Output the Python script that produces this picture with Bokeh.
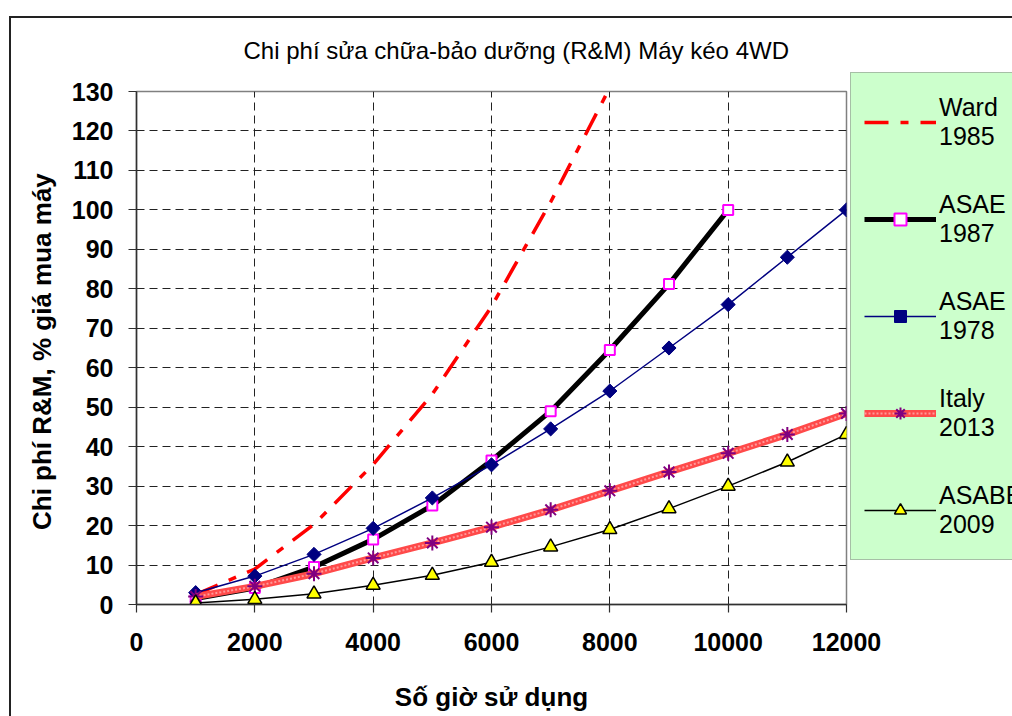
from bokeh.plotting import figure
from bokeh.models import Range1d, FixedTicker, Legend, LegendItem, InlineStyleSheet
from bokeh.embed import file_html
from bokeh.resources import INLINE

# ---------------- data ----------------
title_text = "Chi phí sửa chữa-bảo dưỡng (R&M) Máy kéo 4WD"
x_title = "Số giờ sử dụng"
y_title = "Chi phí R&M,  % giá mua máy"

x_ticks = [0, 2000, 4000, 6000, 8000, 10000, 12000]
y_ticks = [0, 10, 20, 30, 40, 50, 60, 70, 80, 90, 100, 110, 120, 130]

ward_hours = [1000, 2000, 3000, 4000, 5000, 6000, 7000, 8000]
ward_1985 = [2.5, 9, 20.3, 35.5, 53.3, 75.5, 102, 131]

asae87_hours = [1000, 2000, 3000, 4000, 5000, 6000, 7000, 8000, 9000, 10000]
asae_1987 = [1.5, 4.2, 9.5, 16.5, 25.1, 36.5, 49, 64.5, 81.2, 100]

hours12 = [1000, 2000, 3000, 4000, 5000, 6000, 7000, 8000, 9000, 10000, 11000, 12000]
asae_1978 = [3, 7.2, 12.7, 19.3, 27, 35.4, 44.5, 54.1, 65, 76, 88, 100]
italy_2013 = [2, 4.6, 7.8, 11.8, 15.6, 19.6, 24, 28.8, 33.6, 38.3, 43.1, 48.4]
asabe_2009 = [0.4, 1.3, 2.7, 4.9, 7.4, 10.7, 14.6, 19, 24.3, 30, 36.1, 43.1]

series_names = ["Ward\n1985", "ASAE\n1987", "ASAE\n1978", "Italy\n2013", "ASABE\n2009"]

FONT = "Liberation Sans"

# ---------------- main plot ----------------
p = figure(width=1012, height=716, output_backend="svg", toolbar_location=None,
           x_range=Range1d(0, 12000), y_range=Range1d(0, 130),
           min_border_left=136, min_border_right=166, min_border_top=91, min_border_bottom=112,
           background_fill_color="white", border_fill_color="white")

p.stylesheets = [InlineStyleSheet(css=(
    ":host::after { content: ''; position: absolute; left: 9px; top: 16px; "
    "right: 0px; bottom: 0px; border-left: 2px solid #222222; border-top: 2px solid #222222; "
    "pointer-events: none; }"
))]

p.title.text = title_text
p.title.text_font = FONT
p.title.text_font_style = "normal"
p.title.text_font_size = "24px"
p.title.align = "left"
p.title.offset = 107
p.title.standoff = 55
p.title.text_color = "black"

p.outline_line_color = "#808080"
p.outline_line_width = 1.5

for ax in (p.xaxis[0], p.yaxis[0]):
    ax.major_tick_out = 8
    ax.major_tick_in = 0
    ax.minor_tick_out = 0
    ax.minor_tick_in = 0
    ax.axis_line_color = "#303030"
    ax.axis_line_width = 1.5
    ax.major_tick_line_color = "#303030"
    ax.major_tick_line_width = 1.2
    ax.major_label_text_font = FONT
    ax.major_label_text_font_style = "bold"
    ax.major_label_text_font_size = "25px"
    ax.major_label_text_color = "black"
    ax.axis_label_text_font = FONT
    ax.axis_label_text_font_style = "bold"
    ax.axis_label_text_font_size = "26px"
    ax.axis_label_text_color = "black"

p.xaxis.ticker = FixedTicker(ticks=x_ticks)
p.yaxis.ticker = FixedTicker(ticks=y_ticks)
p.xaxis.major_label_overrides = {t: str(t) for t in x_ticks}
p.yaxis.major_label_overrides = {t: str(t) for t in y_ticks}
p.xaxis.axis_label = x_title
p.yaxis.axis_label = y_title
p.xaxis.major_label_standoff = 20
p.yaxis.major_label_standoff = 15
p.xaxis.axis_label_standoff = 28
p.yaxis.axis_label_standoff = 12

p.xgrid.ticker = FixedTicker(ticks=x_ticks[1:-1])
p.ygrid.ticker = FixedTicker(ticks=y_ticks[1:-1])
for g in (p.xgrid[0], p.ygrid[0]):
    g.grid_line_color = "#222222"
    g.grid_line_dash = "8 5"
    g.grid_line_width = 1

# ---------------- series ----------------
r_ward = p.line(ward_hours, ward_1985, line_color="#FF0000", line_width=3.5,
                line_dash="24 12 8 12")

r87_l = p.line(asae87_hours, asae_1987, line_color="black", line_width=5)
r87_m = p.scatter(asae87_hours, asae_1987, marker="square", size=10, fill_color="white",
                  line_color="#FF00FF", line_width=2)

r78_l = p.line(hours12, asae_1978, line_color="#000080", line_width=1.5)
r78_m = p.scatter(hours12, asae_1978, marker="square", angle=0.7854, size=10,
                  fill_color="#000080", line_color="#000080")

rit_l = p.line(hours12, italy_2013, line_color="#FF4A4A", line_width=7)
rit_t = p.line(hours12, italy_2013, line_color="#FF9A9A", line_width=2, line_dash="2 2")
rit_m = p.scatter(hours12, italy_2013, marker="asterisk", size=15, line_color="#800080",
                  line_width=2)

rab_l = p.line(hours12, asabe_2009, line_color="black", line_width=1.5)
rab_m = p.scatter(hours12, asabe_2009, marker="triangle", size=14, fill_color="#FFFF00",
                  line_color="black", line_width=1.5)

# ---------------- legend (right panel) ----------------
legend = Legend(items=[
    LegendItem(label=series_names[0], renderers=[r_ward]),
    LegendItem(label=series_names[1], renderers=[r87_l, r87_m]),
    LegendItem(label=series_names[2], renderers=[r78_l, r78_m]),
    LegendItem(label=series_names[3], renderers=[rit_l, rit_t, rit_m]),
    LegendItem(label=series_names[4], renderers=[rab_l, rab_m]),
])
legend.location = (4, 44)
legend.margin = -230
legend.padding = 13
legend.spacing = 25
legend.glyph_width = 72
legend.glyph_height = 30
legend.label_height = 72
legend.label_standoff = 3
legend.label_text_font = FONT
legend.label_text_font_size = "25px"
legend.label_text_color = "black"
legend.background_fill_color = "#CCFFCC"
legend.background_fill_alpha = 1
legend.border_line_color = "#808080"
legend.border_line_width = 1.5
p.add_layout(legend, "right")

open("out.html", "w").write(file_html(p, INLINE))
